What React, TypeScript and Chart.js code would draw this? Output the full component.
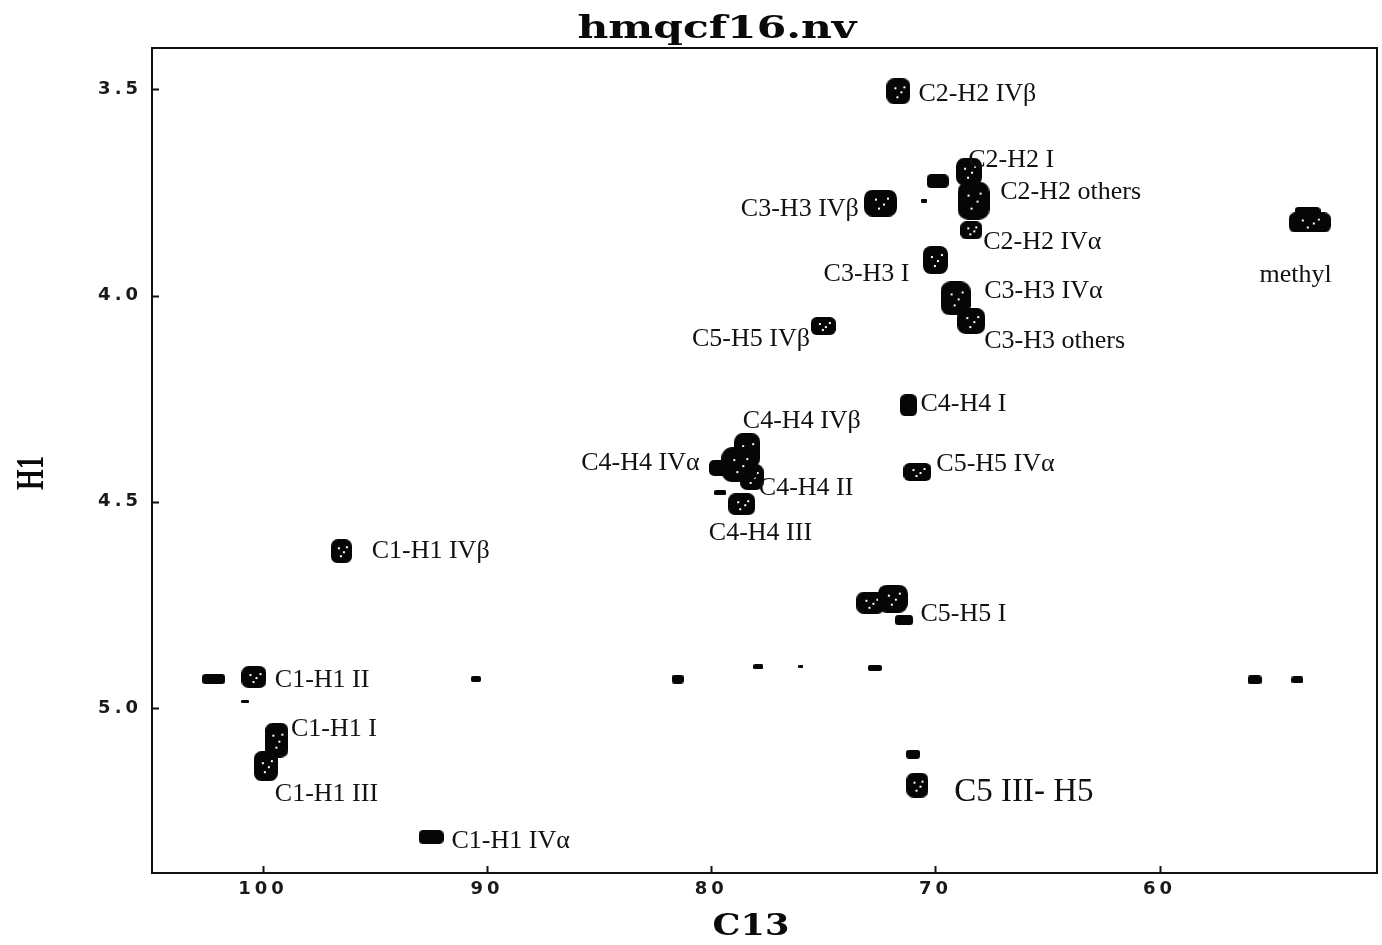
import React, { useEffect, useRef } from "react";
import { Chart, registerables } from "chart.js";

Chart.register(...registerables);

// ---- axes ----
const chartTitle = "hmqcf16.nv";
const xAxisTitle = "C13";
const yAxisTitle = "H1";
const xTickValues = [100, 90, 80, 70, 60];
const xTickLabels = ["100", "90", "80", "70", "60"];
const yTickValues = [3.5, 4.0, 4.5, 5.0];
const yTickLabels = ["3.5", "4.0", "4.5", "5.0"];
const xRange = [50.3, 104.95]; // C13 ppm (reversed axis)
const yRange = [3.4, 5.4]; // H1 ppm (reversed axis)

// ---- cross peaks (ppm) ----
const peakC13 = [
  71.65, 68.5, 68.3, 69.9, 70.5, 68.4, 72.45, 70.0, 69.1, 68.4,
  75.0, 71.2, 78.4, 79.5, 78.2, 78.64, 79.6, 70.8, 72.9, 71.9,
  71.4, 96.5, 100.4, 102.2, 100.8, 99.38, 99.87, 92.5, 90.5, 81.5,
  77.9, 76.0, 72.7, 55.76, 53.85, 71.0, 70.8, 53.3, 53.4, 78.75,
];
const peakH1 = [
  3.505, 3.70, 3.77, 3.723, 3.77, 3.842, 3.776, 3.914, 4.007, 4.062,
  4.074, 4.266, 4.375, 4.418, 4.44, 4.506, 4.478, 4.428, 4.745, 4.735,
  4.787, 4.62, 4.925, 4.93, 4.985, 5.078, 5.141, 5.313, 4.93, 4.93,
  4.90, 4.90, 4.903, 4.932, 4.932, 5.112, 5.187, 3.823, 3.80, 4.41,
];
// contour extent of each peak (ppm)
const peakWidthC13 = [
  1.07, 1.16, 1.42, 0.98, 0.27, 0.98, 1.47, 1.11, 1.34, 1.25,
  1.11, 0.76, 1.16, 1.2, 1.07, 1.2, 0.53, 1.25, 1.25, 1.34,
  0.8, 0.93, 1.11, 1.02, 0.36, 1.02, 1.07, 1.11, 0.45, 0.53,
  0.45, 0.22, 0.62, 0.62, 0.53, 0.62, 0.98, 1.87, 1.16, 1.6,
];
const peakWidthH1 = [
  0.063, 0.068, 0.092, 0.034, 0.01, 0.044, 0.065, 0.068, 0.082, 0.063,
  0.044, 0.053, 0.082, 0.04, 0.063, 0.053, 0.012, 0.044, 0.053, 0.068,
  0.024, 0.058, 0.053, 0.024, 0.007, 0.085, 0.073, 0.034, 0.015, 0.022,
  0.012, 0.007, 0.015, 0.022, 0.017, 0.022, 0.061, 0.048, 0.029, 0.085,
];

// ---- assignment labels (anchor = left edge / text middle, in ppm) ----
const labelTexts = [
  "C2-H2 IVβ", "C2-H2 I", "C2-H2 others", "C2-H2 IVα", "C3-H3 IVβ",
  "C3-H3 I", "C3-H3 IVα", "C3-H3 others", "C5-H5 IVβ", "C4-H4 I",
  "C4-H4 IVβ", "C4-H4 IVα", "C4-H4 II", "C4-H4 III", "C5-H5 IVα",
  "C5-H5 I", "C1-H1 IVβ", "C1-H1 II", "C1-H1 I", "C1-H1 III",
  "C1-H1 IVα", "C5 III- H5", "methyl",
];
const labelC13 = [
  70.76, 68.54, 67.11, 67.87, 78.68,
  74.99, 67.82, 67.82, 80.86, 70.67,
  78.59, 85.8, 77.88, 80.11, 69.96,
  70.67, 95.15, 99.47, 98.75, 99.47,
  91.59, 69.16, 55.54,
];
const labelH1 = [
  3.507, 3.667, 3.745, 3.866, 3.786,
  3.944, 3.985, 4.106, 4.101, 4.259,
  4.3, 4.402, 4.462, 4.571, 4.404,
  4.768, 4.615, 4.928, 5.046, 5.204,
  5.318, 5.199, 3.946,
];

const blobCache = new Map<string, HTMLCanvasElement>();
function blob(w: number, h: number): HTMLCanvasElement {
  const W = Math.max(2, Math.round(w));
  const H = Math.max(2, Math.round(h));
  const key = W + "x" + H;
  let c = blobCache.get(key);
  if (!c) {
    c = document.createElement("canvas");
    c.width = W;
    c.height = H;
    const g = c.getContext("2d")!;
    g.fillStyle = "#060606";
    g.beginPath();
    const r = Math.min(W, H) * 0.32;
    (g as any).roundRect(0, 0, W, H, r);
    g.fill();
    if (W > 17 && H > 17) {
      g.fillStyle = "#ffffff";
      const specks = [
        [0.32, 0.35],
        [0.58, 0.5],
        [0.42, 0.68],
        [0.7, 0.3],
      ];
      specks.forEach(([fx, fy]) => {
        g.fillRect(Math.round(W * fx), Math.round(H * fy), 2, 2);
      });
    }
    blobCache.set(key, c);
  }
  return c;
}

const decor = {
  id: "nmrDecor",
  beforeDraw(chart: any) {
    chart.ctx.letterSpacing = "4px";
  },
  afterDatasetsDraw(chart: any) {
    const ctx = chart.ctx as CanvasRenderingContext2D;
    const xs = chart.scales.x;
    const ys = chart.scales.y;
    const a = chart.chartArea;
    ctx.save();
    (ctx as any).letterSpacing = "0px";
    // frame
    ctx.strokeStyle = "#111";
    ctx.lineWidth = 2;
    ctx.strokeRect(a.left, a.top, a.right - a.left, a.bottom - a.top);
    // inward ticks
    ctx.beginPath();
    xTickValues.forEach((v) => {
      const px = Math.round(xs.getPixelForValue(v)) + 0.5;
      ctx.moveTo(px, a.bottom);
      ctx.lineTo(px, a.bottom - 7);
    });
    yTickValues.forEach((v) => {
      const py = Math.round(ys.getPixelForValue(v)) + 0.5;
      ctx.moveTo(a.left, py);
      ctx.lineTo(a.left + 7, py);
    });
    ctx.stroke();
    // labels
    ctx.fillStyle = "#111";
    ctx.textAlign = "left";
    ctx.textBaseline = "alphabetic";
    labelTexts.forEach((t, i) => {
      const size = t === "C5 III- H5" ? 33 : 26;
      ctx.font = `${size}px "Liberation Serif", "Times New Roman", serif`;
      const px = xs.getPixelForValue(labelC13[i]);
      const py = ys.getPixelForValue(labelH1[i]);
      ctx.fillText(t, px, py + size * 0.33);
    });
    ctx.restore();
  },
  afterDraw(chart: any) {
    const ctx = chart.ctx as CanvasRenderingContext2D;
    const W = chart.width;
    const a = chart.chartArea;
    ctx.save();
    (ctx as any).letterSpacing = "0px";
    ctx.fillStyle = "#0a0a0a";
    // title
    ctx.font = '900 31px "DejaVu Serif", serif';
    ctx.textAlign = "center";
    ctx.textBaseline = "alphabetic";
    const tw = ctx.measureText(chartTitle).width;
    ctx.save();
    ctx.translate(W * (717 / 1382), 38);
    ctx.scale(279 / tw, 1);
    ctx.fillText(chartTitle, 0, 0);
    ctx.restore();
    // x axis title
    ctx.font = 'bold 30px "DejaVu Serif", serif';
    const xw = ctx.measureText(xAxisTitle).width;
    ctx.save();
    ctx.translate(a.left + (a.right - a.left) * 0.489, 935);
    ctx.scale(77 / xw, 1);
    ctx.fillText(xAxisTitle, 0, 0);
    ctx.restore();
    // y axis title
    ctx.font = 'bold 40px "Liberation Serif", serif';
    const yw = ctx.measureText(yAxisTitle).width;
    ctx.save();
    ctx.translate(43, a.top + (a.bottom - a.top) * 0.515);
    ctx.rotate(-Math.PI / 2);
    ctx.scale(34 / yw, 1);
    ctx.fillText(yAxisTitle, 0, 0);
    ctx.restore();
    ctx.restore();
    (ctx as any).letterSpacing = "0px";
  },
};

export default function App() {
  const ref = useRef<HTMLCanvasElement | null>(null);
  useEffect(() => {
    if (!ref.current) return;
    const points = peakC13.map((c, i) => ({ x: c, y: peakH1[i] }));
    const chart = new Chart(ref.current, {
      type: "scatter",
      data: {
        datasets: [
          {
            label: "cross peaks",
            data: points,
            pointRadius: 3,
            pointStyle: (ctx: any) => {
              const i = ctx.dataIndex;
              const xs = ctx.chart.scales.x;
              const ys = ctx.chart.scales.y;
              if (!xs || !ys || i === undefined) return "circle";
              const w = Math.abs(
                xs.getPixelForValue(peakC13[i] + peakWidthC13[i] / 2) -
                  xs.getPixelForValue(peakC13[i] - peakWidthC13[i] / 2)
              );
              const h = Math.abs(
                ys.getPixelForValue(peakH1[i] + peakWidthH1[i] / 2) -
                  ys.getPixelForValue(peakH1[i] - peakWidthH1[i] / 2)
              );
              return blob(w, h);
            },
            backgroundColor: "#060606",
            borderColor: "#060606",
          } as any,
        ],
      },
      options: {
        animation: false,
        responsive: false,
        layout: { padding: { top: 48, right: 2, left: 0, bottom: 0 } },
        plugins: {
          legend: { display: false },
          tooltip: { enabled: false },
          title: { display: false },
        },
        scales: {
          x: {
            type: "linear",
            reverse: true,
            min: xRange[0],
            max: xRange[1],
            grid: { display: false, drawTicks: false },
            border: { display: false },
            afterBuildTicks: (s: any) => {
              s.ticks = xTickValues.map((v) => ({ value: v }));
            },
            afterFit: (s: any) => {
              s.height = 72;
            },
            ticks: {
              padding: 6,
              color: "#1a1a1a",
              font: { family: '"DejaVu Sans", sans-serif', size: 18, weight: "bold" },
              callback: (v: any) => {
                const k = xTickValues.indexOf(Number(v));
                return k >= 0 ? xTickLabels[k] : "";
              },
            },
          },
          y: {
            type: "linear",
            reverse: true,
            min: yRange[0],
            max: yRange[1],
            grid: { display: false, drawTicks: false },
            border: { display: false },
            afterBuildTicks: (s: any) => {
              s.ticks = yTickValues.map((v) => ({ value: v }));
            },
            afterFit: (s: any) => {
              s.width = 152;
            },
            ticks: {
              padding: 10,
              color: "#1a1a1a",
              font: { family: '"DejaVu Sans", sans-serif', size: 18, weight: "bold" },
              callback: (v: any) => {
                const k = yTickValues.findIndex((t) => Math.abs(t - Number(v)) < 1e-6);
                return k >= 0 ? yTickLabels[k] : "";
              },
            },
          },
        },
      },
      plugins: [decor as any],
    });
    return () => chart.destroy();
  }, []);
  return (
    <div
      style={{
        position: "fixed",
        left: 0,
        top: 0,
        width: 1382,
        height: 945,
        background: "#fff",
      }}
    >
      <canvas ref={ref} width={1382} height={945} style={{ display: "block" }} />
    </div>
  );
}
